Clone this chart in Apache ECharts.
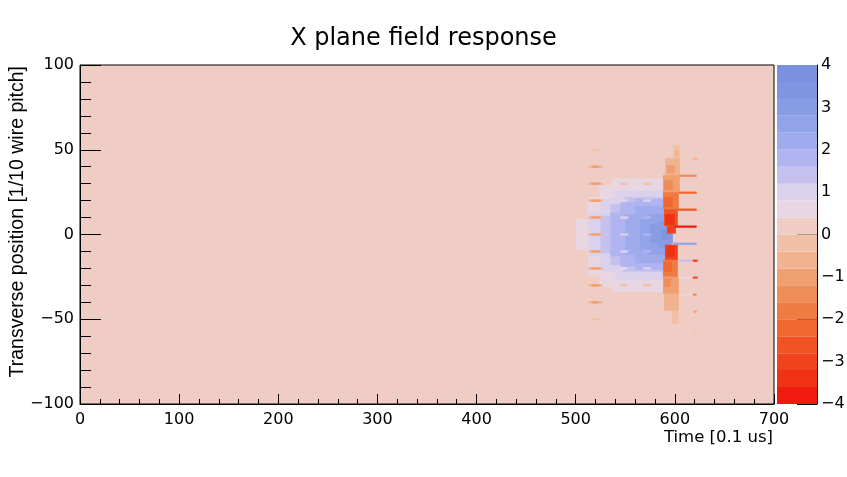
<!DOCTYPE html>
<html lang="en">
<head>
  <meta charset="utf-8">
  <title>X plane field response</title>
  <style>
    html, body { margin: 0; padding: 0; background: #fff; }
    #fieldresponse { width: 847px; height: 477px; }
  </style>
</head>
<body>
<script src="https://cdn.jsdelivr.net/npm/echarts@6.0.0/dist/echarts.min.js"></script>

<div id="fieldresponse"></div>

<script>
  // palette levels, -4 .. 4 in steps of 0.4 (20 bands)
  var levelEdges = [-4, -3.6, -3.2, -2.8, -2.4, -2, -1.6, -1.2, -0.8, -0.4, 0,
                    0.4, 0.8, 1.2, 1.6, 2, 2.4, 2.8, 3.2, 3.6, 4];
  var levelColors = ['#f01a0e', '#f03214', '#f0421c', '#f05424', '#f06830',
                     '#ee7a44', '#ef8d58', '#f0a070', '#f1b290', '#f0c0a8',
                     '#efcdc4', '#e8d7e2', '#dad1ed', '#c6c0ee', '#b0b4f1',
                     '#a0abed', '#93a3e9', '#889ce5', '#8095e2', '#7b90df'];
  var backgroundValue = 0.2;

  // [t0, t1, pos0, pos1, value]  -- blue lobe, lowest level first
  var lobeCells = [
    [500, 512, -9, 9, 0.6],
    [512, 524, -24, 22, 0.6],
    [524, 537, -31, 29, 0.6],
    [537, 590, -34, 33, 0.6],
    [513, 592, -13, 13, 1.0],
    [525, 590, -22, 21, 1.0],
    [540, 588, -27, 26, 1.0],
    [525, 594, -11, 11, 1.4],
    [535, 592, -18, 18, 1.4],
    [548, 588, -22, 22, 1.4],
    [535, 595, -13, 13, 1.8],
    [545, 592, -19, 19, 1.8],
    [560, 588, -21, 21, 1.8],
    [550, 596, -12, 12, 2.2],
    [560, 593, -17, 17, 2.2],
    [565, 597, -9, 9, 2.6],
    [572, 594, -12, 12, 2.6],
    [575, 598, -5, 6, 3.0],
    [583, 594, -8, 8, 3.0],
    [586, 597, -3, 3, 3.4]
  ];

  // negative edge next to the wire
  var edgeCells = [
    [598, 605, 45, 53, -0.2], [600, 604, 46, 50, -0.6],
    [590, 605, 35, 45, -0.6], [592, 600, 36, 41, -1.0],
    [588, 605, 25, 35, -1.0], [589, 598, 26, 32, -1.4],
    [588, 604, 15, 25, -1.8], [589, 598, 16, 22, -2.2],
    [589, 603, 5, 15, -2.6], [590, 600, 5.5, 12, -3.4],
    [592, 601, 0.5, 5, -3.0],
    [590, 603, -15, -6, -3.0], [592, 600, -13, -6.5, -3.6],
    [588, 603, -25, -15, -1.8], [589, 597, -22, -16, -2.2],
    [588, 604, -35, -25, -1.0], [589, 596, -31, -26, -1.4],
    [589, 604, -45, -35, -0.6],
    [597, 604, -53, -45, -0.2]
  ];

  // short streaks at every 10 units of position
  var streakCells = [
    [516, 524, 49.3, 50.7, -0.2],
    [513, 527, 39.3, 40.7, -0.6], [517, 523, 39.3, 40.7, -1.0],
    [513, 527, 29.3, 30.7, -0.6], [516, 524, 29.3, 30.7, -1.0],
    [513, 527, 19.3, 20.7, -0.6], [516, 524, 19.3, 20.7, -1.0],
    [513, 527, 9.3, 10.7, -0.6], [516, 524, 9.3, 10.7, -1.0],
    [513, 527, -0.7, 0.7, -0.6], [516, 524, -0.7, 0.7, -1.0],
    [513, 527, -10.7, -9.3, -0.6], [516, 524, -10.7, -9.3, -1.0],
    [513, 527, -20.7, -19.3, -0.6], [516, 524, -20.7, -19.3, -1.0],
    [513, 527, -30.7, -29.3, -0.6], [516, 524, -30.7, -29.3, -1.0],
    [513, 527, -40.7, -39.3, -0.6], [517, 523, -40.7, -39.3, -1.0],
    [516, 524, -50.7, -49.3, -0.2],
    [545, 552, 29.3, 30.7, -0.2], [568, 576, 29.3, 30.7, -0.2],
    [545, 552, 19.3, 20.7, 0.6], [568, 576, 19.3, 20.7, 1.0],
    [545, 553, 9.3, 10.7, 1.0], [568, 576, 9.3, 10.7, 1.8],
    [545, 553, -0.7, 0.7, 1.0], [568, 576, -0.7, 0.7, 1.8],
    [545, 553, -10.7, -9.3, 1.0], [568, 576, -10.7, -9.3, 1.8],
    [545, 552, -20.7, -19.3, 0.6], [568, 576, -20.7, -19.3, 1.0],
    [545, 552, -30.7, -29.3, -0.2], [568, 576, -30.7, -29.3, -0.2]
  ];

  // thin lines reaching past the edge
  var lineCells = [
    [618, 623, 44, 45.3, -0.6],
    [604, 622, 34, 35.3, -1.4],
    [604, 622, 24, 25.3, -2.2],
    [603, 622, 14, 15.3, -2.6],
    [600, 622, 4, 5.3, -3.8],
    [598, 622, -6.1, -4.8, 2.6],
    [604, 618, -16.1, -14.8, 1.4], [618, 623, -16.1, -14.8, -3.0],
    [604, 618, -26.1, -24.8, 0.6], [618, 623, -26.1, -24.8, -2.6],
    [606, 618, -36.1, -34.8, 0.6], [618, 622, -36.1, -34.8, -1.4],
    [619, 622, -46.1, -44.8, -1.0],
    [620, 622, -57, -55.7, -0.2]
  ];

  function colorOf(v) {
    for (var i = 0; i < levelColors.length; i++) {
      if (v < levelEdges[i + 1]) return levelColors[i];
    }
    return levelColors[levelColors.length - 1];
  }

  function minusLabel(v) {
    return v < 0 ? '\u2212' + Math.abs(v) : String(v);
  }

  var fieldresponse = echarts.init(document.getElementById('fieldresponse'));

  var cells = lobeCells.concat(edgeCells, streakCells, lineCells);

  var paletteCells = [];
  for (var i = 0; i < levelColors.length; i++) {
    paletteCells.push([0, 1, levelEdges[i], levelEdges[i + 1], (levelEdges[i] + levelEdges[i + 1]) / 2]);
  }

  function renderCell(params, api) {
    var p0 = api.coord([api.value(0), api.value(3)]);
    var p1 = api.coord([api.value(1), api.value(2)]);
    return {
      type: 'rect',
      shape: { x: p0[0], y: p0[1], width: p1[0] - p0[0], height: p1[1] - p0[1] },
      style: { fill: colorOf(api.value(4)) }
    };
  }

  var tickFont = { fontFamily: 'DejaVu Sans', fontSize: 16, color: '#000' };

  var option = {
    animation: false,
    backgroundColor: '#fff',
    title: {
      text: 'X plane field response',
      left: 'center',
      top: 22,
      textStyle: { fontFamily: 'DejaVu Sans', fontSize: 24, fontWeight: 'normal', color: '#000' }
    },
    grid: [
      {
        left: 80, top: 65, width: 694, height: 339,
        show: true, backgroundColor: colorOf(backgroundValue),
        borderColor: '#000', borderWidth: 1,
        containLabel: false, outerBoundsMode: 'none'
      },
      {
        left: 777, top: 65, width: 40, height: 339,
        show: false, containLabel: false, outerBoundsMode: 'none'
      }
    ],
    xAxis: [
      {
        type: 'value', gridIndex: 0, min: 0, max: 700, interval: 100,
        name: 'Time [0.1 us]', nameLocation: 'end', nameGap: -1,
        nameTextStyle: { fontFamily: 'DejaVu Sans', fontSize: 16.5, color: '#000',
                         align: 'right', verticalAlign: 'top', padding: [25, 0, 0, 0] },
        axisLine: { show: true, onZero: false, lineStyle: { color: '#000', width: 1 } },
        axisTick: { show: true, inside: true, length: 10, lineStyle: { color: '#000' } },
        minorTick: { show: true, splitNumber: 5, length: 5, lineStyle: { color: '#000' } },
        axisLabel: Object.assign({ margin: 8, formatter: minusLabel }, tickFont),
        splitLine: { show: false }
      },
      { type: 'value', gridIndex: 1, min: 0, max: 1, show: false }
    ],
    yAxis: [
      {
        type: 'value', gridIndex: 0, min: -100, max: 100, interval: 50,
        axisLine: { show: true, onZero: false, lineStyle: { color: '#000', width: 1 } },
        axisTick: { show: true, inside: true, length: 21, lineStyle: { color: '#000' } },
        minorTick: { show: true, splitNumber: 5, length: 11, lineStyle: { color: '#000' } },
        axisLabel: Object.assign({ margin: 6, formatter: minusLabel }, tickFont),
        splitLine: { show: false }
      },
      {
        type: 'value', gridIndex: 1, position: 'right', min: -4, max: 4, interval: 1,
        axisLine: { show: true, onZero: false, lineStyle: { color: '#000', width: 1 } },
        axisTick: { show: true, inside: true, length: 20, lineStyle: { color: '#000' } },
        axisLabel: Object.assign({ margin: 4, formatter: minusLabel }, tickFont),
        splitLine: { show: false }
      }
    ],
    graphic: [
      {
        type: 'text', x: 18, y: 66, rotation: Math.PI / 2,
        style: {
          text: 'Transverse position [1/10 wire pitch]',
          fontFamily: 'Liberation Sans', fontSize: 19.5, fill: '#000',
          align: 'right', verticalAlign: 'middle'
        }
      }
    ],
    series: [
      {
        type: 'custom', xAxisIndex: 0, yAxisIndex: 0,
        renderItem: renderCell, clip: true,
        data: cells
      },
      {
        type: 'custom', xAxisIndex: 1, yAxisIndex: 1,
        renderItem: renderCell,
        data: paletteCells
      }
    ]
  };
  fieldresponse.setOption(option);

  window.addEventListener('resize', function () {
    setTimeout(function () { fieldresponse.resize(); }, 200);
  });
</script>

</body>
</html>
